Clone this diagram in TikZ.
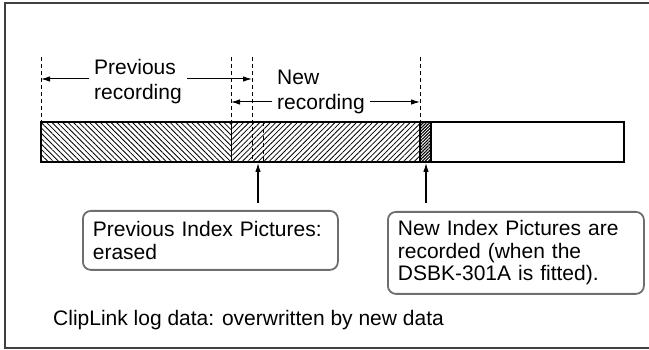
\documentclass[tikz,border=0pt]{standalone}
\usepackage{fontspec}
\setmainfont{Liberation Sans}
\usetikzlibrary{arrows.meta,patterns.meta}
\definecolor{framegray}{RGB}{64,64,64}
\definecolor{boxgray}{RGB}{110,110,110}
\newcommand{\lblfont}{\fontsize{21}{22.5}\selectfont}
\newcommand{\dimfont}{\fontsize{21}{25}\selectfont}

\begin{document}
\begin{tikzpicture}[x=1pt,y=-1pt,
  guide/.style={dash pattern=on 4pt off 3pt, line width=1pt},
  dimarrow/.style={line width=1pt, -{Latex[length=9pt,width=5.5pt]}},
  pointer/.style={line width=1.1pt, -{Latex[length=9pt,width=5.5pt]}},
  dimlabel/.style={font=\dimfont, align=left, inner xsep=5pt, inner ysep=0pt, anchor=west},
  infobox/.style={draw=boxgray, line width=1.8pt, rounded corners=8pt, font=\lblfont,
    align=left, anchor=north west, inner xsep=10pt}]
  \useasboundingbox (0,0) rectangle (649,350);
  % outer frame, right side runs off the page
  \draw[framegray, line width=1.6pt] (5,3) rectangle (660,348);

  % Tape
  \fill[pattern={Lines[angle=-45,distance=3.8pt,line width=0.8pt]}] (41,122) rectangle (231,162);
  \fill[pattern={Lines[angle=45,distance=3.8pt,line width=0.8pt]}] (231,122) rectangle (420,162);
  \fill[pattern={Lines[angle=45,distance=2.2pt,line width=1.1pt]}] (420,122) rectangle (431,162);
  \draw[line width=0.9pt] (231,122) -- (231,162);
  \draw[line width=2pt] (420,122) -- (420,162);
  \draw[line width=1.4pt] (431,122) -- (431,162);
  \draw[line width=2.2pt] (41,122) rectangle (624,162);

  % Guides
  \draw[guide] (41,57) -- (41,122);
  \draw[guide] (231,57) -- (231,122);
  \draw[guide] (252,57) -- (252,162);
  \draw[guide] (263,122) -- (263,162);
  \draw[guide] (420,57) -- (420,122);

  % Previous recording
  \node[dimlabel] (prevrec) at (89,82) {Previous\\recording};
  \coordinate (prevL) at (41,79);
  \coordinate (prevR) at (252,79);
  \draw[dimarrow] (prevrec.west |- prevL) -- (prevL);
  \draw[dimarrow] (prevrec.east |- prevR) -- (prevR);

  % New recording
  \node[dimlabel] (newrec) at (272,92) {New\\recording};
  \coordinate (newL) at (231,102);
  \coordinate (newR) at (420,102);
  \draw[dimarrow] (newrec.west |- newL) -- (newL);
  \draw[dimarrow] (newrec.east |- newR) -- (newR);

  % Index pictures
  \node[infobox, minimum height=59pt, text width=235pt] (oldidx) at (82,210)
    {Previous Index Pictures:\\erased};
  \node[infobox, minimum height=82pt, text width=236pt] (newidx) at (387,211)
    {New Index Pictures are\\recorded (when the\\DSBK-301A is fitted).};
  \coordinate (erasept) at (258,163);
  \coordinate (newpt) at (426,163);
  \draw[pointer, shorten <=7pt] (oldidx.north -| erasept) -- (erasept);
  \draw[pointer, shorten <=8pt] (newidx.north -| newpt) -- (newpt);

  \node[font=\lblfont, anchor=base west, inner sep=0pt] (logdata) at (53,326)
    {ClipLink log data: overwritten by new data};
\end{tikzpicture}
\end{document}
